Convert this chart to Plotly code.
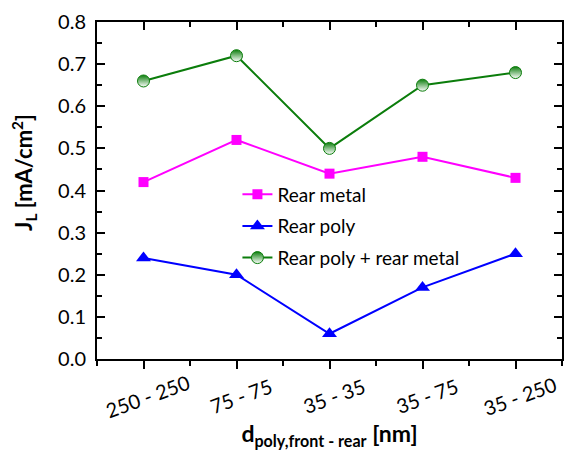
import plotly.graph_objects as go

categories = ["250 - 250", "75 - 75", "35 - 35", "35 - 75", "35 - 250"]
rear_metal = [0.42, 0.52, 0.44, 0.48, 0.43]
rear_poly = [0.24, 0.20, 0.06, 0.17, 0.25]
rear_poly_metal = [0.66, 0.72, 0.50, 0.65, 0.68]
y_ticks = [0.0, 0.1, 0.2, 0.3, 0.4, 0.5, 0.6, 0.7, 0.8]

x = list(range(len(categories)))
FONT = "Lato"
GREEN = "#0B7D0B"

fig = go.Figure()
fig.add_trace(go.Scatter(x=x, y=rear_metal, mode="lines+markers", name="Rear metal",
                         legendgroup="a",
                         line=dict(color="#FF00FF", width=2),
                         marker=dict(symbol="square", size=10, color="#FF00FF")))
fig.add_trace(go.Scatter(x=x, y=rear_poly, mode="lines+markers", name="Rear poly",
                         legendgroup="b",
                         line=dict(color="#0000FF", width=2),
                         marker=dict(symbol="triangle-up", size=13, color="#0000FF")))
fig.add_trace(go.Scatter(x=x, y=rear_poly_metal, mode="lines+markers", name="Rear poly + rear metal",
                         legendgroup="c",
                         line=dict(color=GREEN, width=2),
                         marker=dict(symbol="circle", size=12, color=GREEN,
                                     gradient=dict(type="vertical", color="white"),
                                     line=dict(color=GREEN, width=1))))
# invisible trace for top axis
fig.add_trace(go.Scatter(x=x, y=rear_metal, xaxis="x2", mode="markers",
                         marker=dict(opacity=0), showlegend=False, hoverinfo="skip"))

annotations = []
for i, c in enumerate(categories):
    annotations.append(dict(x=i, y=0, xref="x", yref="paper", text=c, showarrow=False,
                            textangle=-20, xanchor="center", yanchor="middle",
                            xshift=4, yshift=-37, font=dict(size=20, family=FONT, color="black")))
annotations.append(dict(x=0, y=0.552, xref="paper", yref="paper",
                        text="<b>J<sub>L</sub> [mA/cm<sup>2</sup>]</b>", showarrow=False,
                        textangle=-90, xanchor="center", yanchor="middle", xshift=-73,
                        font=dict(size=22, family=FONT, color="black")))

fig.update_layout(
    width=565, height=457,
    margin=dict(l=97, r=1, t=22, b=98),
    paper_bgcolor="white", plot_bgcolor="white",
    font=dict(family=FONT, color="black", size=18),
    showlegend=True,
    annotations=annotations,
    legend=dict(x=0.302, y=0.545, xanchor="left", yanchor="top",
                bgcolor="rgba(0,0,0,0)", font=dict(size=19, family=FONT),
                traceorder="grouped", tracegroupgap=4),
    xaxis=dict(range=[-0.5, 4.5], tickvals=x, showticklabels=False,
               showline=True, linecolor="black", linewidth=2,
               ticks="outside", ticklen=8, tickwidth=2, tickcolor="black",
               minor=dict(dtick=0.5, tick0=0.5, ticks="outside", ticklen=5, tickwidth=2, tickcolor="black"),
               showgrid=False, zeroline=False,
               title=dict(text="<b>d<sub>poly,front - rear</sub> [nm]</b>", font=dict(size=23, family=FONT), standoff=58)),
    xaxis2=dict(range=[-0.5, 4.5], overlaying="x", side="top", tickvals=x, showticklabels=False,
                showline=True, linecolor="black", linewidth=2,
                ticks="inside", ticklen=8, tickwidth=2, tickcolor="black",
                minor=dict(dtick=0.5, tick0=0.5, ticks="inside", ticklen=5, tickwidth=2, tickcolor="black"),
                showgrid=False, zeroline=False),
    yaxis=dict(range=[0, 0.8], tickvals=y_ticks, tickformat=".1f",
               showline=True, linecolor="black", linewidth=2, mirror="ticks",
               ticks="inside", ticklen=8, tickwidth=2, tickcolor="black",
               minor=dict(dtick=0.05, ticks="inside", ticklen=5, tickwidth=2, tickcolor="black"),
               showgrid=False, zeroline=False, ticklabelstandoff=5,
               tickfont=dict(size=20, family=FONT)),
)

fig.write_html("out.html")
